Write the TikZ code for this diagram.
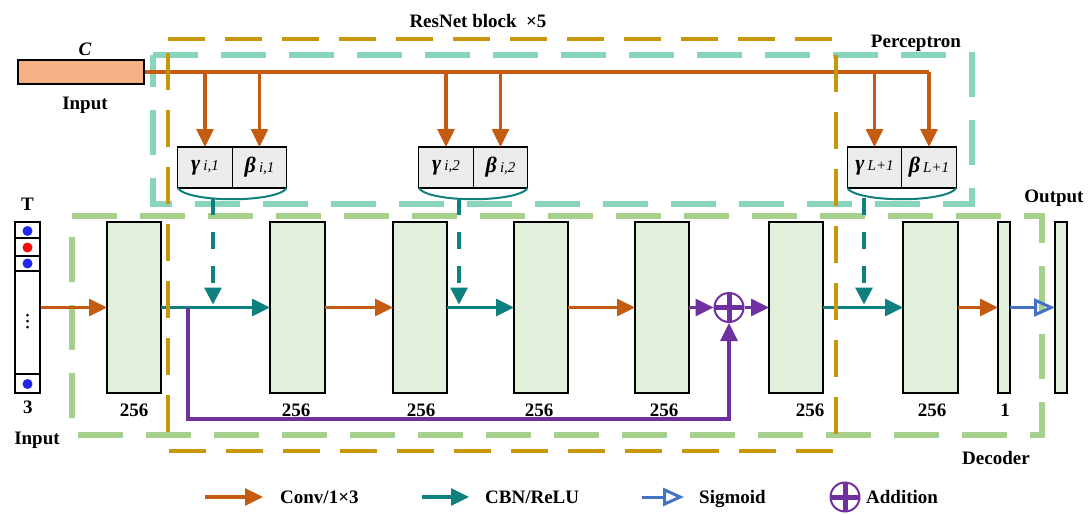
\documentclass[tikz,border=0pt]{standalone}
\usepackage{fontspec}
\setmainfont{Liberation Serif}
\usetikzlibrary{arrows.meta,calc}
\definecolor{cOr}{RGB}{197,90,17}
\definecolor{cTe}{RGB}{14,128,126}
\definecolor{cPu}{RGB}{112,48,160}
\definecolor{cBl}{RGB}{68,114,196}
\definecolor{cGo}{RGB}{200,150,10}
\definecolor{cMi}{RGB}{137,213,188}
\definecolor{cGr}{RGB}{168,208,141}
\definecolor{cBf}{RGB}{226,239,218}
\definecolor{cCf}{RGB}{244,177,131}
\definecolor{cGb}{RGB}{236,236,236}
\definecolor{cDb}{RGB}{30,40,240}
\definecolor{cDr}{RGB}{250,10,10}
\newcommand{\gbl}[2]{{\fontsize{22}{24}\selectfont\textit{#1}}\,{\fontsize{15}{17}\selectfont\mdseries\itshape #2}}
\begin{document}
\begin{tikzpicture}[x=1pt,y=-1pt,
  font=\fontsize{19}{22}\selectfont\bfseries,
  blk/.style={draw=black, line width=1.4pt, fill=cBf, inner sep=0pt, outer sep=0pt, minimum height=171pt},
  gbx/.style={draw=black, line width=1.4pt, fill=cGb, inner sep=0pt, outer sep=0pt, minimum width=54.5pt, minimum height=41pt},
  lbl/.style={inner sep=0pt, text height=12.5pt, text depth=0pt},
  arrO/.style={draw=cOr, line width=3.2pt, -{Triangle[length=18pt,width=17pt]}},
  arrT/.style={draw=cTe, line width=3.2pt, -{Triangle[length=18pt,width=17pt]}},
  arrP/.style={draw=cPu, line width=3.2pt, -{Triangle[length=18pt,width=17pt]}},
  arrS/.style={draw=cBl, line width=3pt, -{Triangle[open,length=21pt,width=18pt,line width=3pt]}},
  dashT/.style={draw=cTe, line width=3.2pt, dash pattern=on 17pt off 17pt, -{Triangle[length=17pt,width=17pt]}},
  curv/.style={draw=cTe, line width=2pt},
  addc/.style={circle, draw=cPu, line width=2pt, fill=white, minimum size=29pt, inner sep=0pt,
    path picture={\draw[cPu, line width=5pt] (path picture bounding box.north) -- (path picture bounding box.south)
      (path picture bounding box.west) -- (path picture bounding box.east);}},
  goldbox/.style={draw=cGo, line width=4.6pt, dash pattern=on 37pt off 20pt},
  mintbox/.style={draw=cMi, line width=5.4pt, dash pattern=on 45pt off 23pt},
  greenbox/.style={draw=cGr, line width=5.4pt, dash pattern=on 45pt off 23pt},
  dot/.style={circle, inner sep=0pt, minimum size=10pt}
]
\useasboundingbox (0,0) rectangle (1088,514);

% background dashed regions
\draw[mintbox] (153,55) -- (972,55) -- (972,204) -- (153,204) -- cycle;
\draw[greenbox] (72,216) -- (1042,216) -- (1042,435) -- (72,435) -- cycle;

% C input
\node[draw=black, line width=1.4pt, fill=cCf, minimum width=126pt, minimum height=24pt, inner sep=0pt] (cin) at (81,72) {};
\node[lbl] (clab) at (85,49) {\textit{C}};
\node[lbl] (cinlab) at (85,103) {Input};

% gamma/beta boxes
\node[gbx] (g1) at (205,167.5) {\gbl{γ}{i,1}};
\node[gbx] (b1) at (259.5,167.5) {\gbl{β}{i,1}};
\node[gbx] (g2) at (446,167.5) {\gbl{γ}{i,2}};
\node[gbx] (b2) at (500.5,167.5) {\gbl{β}{i,2}};
\node[gbx] (g3) at (874.5,167.5) {\gbl{γ}{L+1}};
\node[gbx] (b3) at (929,167.5) {\gbl{β}{L+1}};

% orange feed line
\draw[cOr, line width=3.2pt] (cin.east) -- (b3.north |- cin.east);
\foreach \n in {g1,b1,g2,b2,g3,b3}{
  \draw[arrO] (\n.north |- cin.east) -- (\n.north);
}

% curves under boxes
\draw[curv] (g1.south west) .. controls ($(g1.south west)+(10,15)$) and ($(b1.south east)+(-10,15)$) .. (b1.south east);
\draw[curv] (g2.south west) .. controls ($(g2.south west)+(10,15)$) and ($(b2.south east)+(-10,15)$) .. (b2.south east);
\draw[curv] (g3.south west) .. controls ($(g3.south west)+(10,15)$) and ($(b3.south east)+(-10,15)$) .. (b3.south east);
\coordinate (s1) at (213,198);
\coordinate (s2) at (459,198);
\coordinate (s3) at (864,198);

% T input column
\node[draw=black, line width=1.4pt, fill=white, minimum width=25pt, minimum height=171pt, inner sep=0pt] (tin) at (27.5,307.5) {};
\draw[line width=1.4pt] (15,238) -- (40,238) (15,256) -- (40,256) (15,271) -- (40,271) (15,374) -- (40,374);
\node[dot, fill=cDb] (d1) at (27.5,231) {};
\node[dot, fill=cDr] (d2) at (27.5,247.5) {};
\node[dot, fill=cDb] (d3) at (27.5,263.5) {};
\node[dot, fill=cDb] (d4) at (27.5,384) {};
\node[circle, fill=black, inner sep=0pt, minimum size=3pt] (v1) at (27.5,315) {};
\node[circle, fill=black, inner sep=0pt, minimum size=3pt] (v2) at (27.5,321) {};
\node[circle, fill=black, inner sep=0pt, minimum size=3pt] (v3) at (27.5,327) {};
\node[lbl] (tlab) at (27.5,204) {T};
\node[lbl] (tdim) at (28,407) {3};
\node[lbl] (tinlab) at (37,438) {Input};

% blocks
\node[blk, minimum width=54pt] (B1) at (134,307.5) {};
\node[blk, minimum width=55pt] (B2) at (297.5,307.5) {};
\node[blk, minimum width=54pt] (B3) at (420,307.5) {};
\node[blk, minimum width=54pt] (B4) at (541,307.5) {};
\node[blk, minimum width=54pt] (B5) at (662,307.5) {};
\node[blk, minimum width=54pt] (B6) at (796,307.5) {};
\node[blk, minimum width=55pt] (B7) at (930.5,307.5) {};
\node[blk, minimum width=12pt] (B8) at (1004,307.5) {};
\node[blk, minimum width=12pt] (B9) at (1061,307.5) {};

\node[lbl] (n1) at (134,410) {256};
\node[lbl] (n2) at (296,410) {256};
\node[lbl] (n3) at (421,410) {256};
\node[lbl] (n4) at (539,410) {256};
\node[lbl] (n5) at (664,410) {256};
\node[lbl] (n6) at (810,410) {256};
\node[lbl] (n7) at (932,410) {256};
\node[lbl] (n8) at (1005,410) {1};

% addition
\node[addc] (add) at (729,307.5) {};

% main flow
\draw[arrO] (tin.east) -- (B1.west);
\draw[arrT] (B1.east) -- (B2.west);
\draw[arrO] (B2.east) -- (B3.west);
\draw[arrT] (B3.east) -- (B4.west);
\draw[arrO] (B4.east) -- (B5.west);
\draw[arrP] (B5.east) -- (add.west);
\draw[arrP] (add.east) -- (B6.west);
\draw[arrT] (B6.east) -- (B7.west);
\draw[arrO] (B7.east) -- (B8.west);
\draw[arrS] (B8.east) -- (B9.west);

% dashed modulation arrows
\draw[dashT, shorten >=3pt] (s1) -- (s1 |- B1.east);
\draw[dashT, shorten >=3pt] (s2) -- (s2 |- B1.east);
\draw[dashT, shorten >=3pt] (s3) -- (s3 |- B1.east);

% skip connection
\coordinate (sk) at (188,307.5);
\coordinate (skb) at (0,419);
\draw[arrP] (sk) -- (sk |- skb) -- (add |- skb) -- (add.south);

% gold box on top
\draw[goldbox] (168,39) -- (836,39) -- (836,451) -- (168,451) -- cycle;

% region labels
\node[lbl] (resl) at (478,21) {ResNet block\ \ ×5};
\node[lbl] (perl) at (916,41) {Perceptron};
\node[lbl] (outl) at (1054,196) {Output};
\node[lbl] (decl) at (996,458) {Decoder};

% legend
\coordinate (la1) at (205,497); \coordinate (lb1) at (263,497);
\draw[arrO] (la1) -- (lb1);
\node[lbl, anchor=west] (lt1) at (280,497) {Conv/1×3};
\coordinate (la2) at (422,497); \coordinate (lb2) at (469,497);
\draw[arrT] (la2) -- (lb2);
\node[lbl, anchor=west] (lt2) at (485,497) {CBN/ReLU};
\coordinate (la3) at (642,497); \coordinate (lb3) at (684,497);
\draw[arrS] (la3) -- (lb3);
\node[lbl, anchor=west] (lt3) at (699,497) {Sigmoid};
\node[addc] (ladd) at (845,497) {};
\node[lbl, anchor=west] (lt4) at (866,497) {Addition};
\end{tikzpicture}
\end{document}
